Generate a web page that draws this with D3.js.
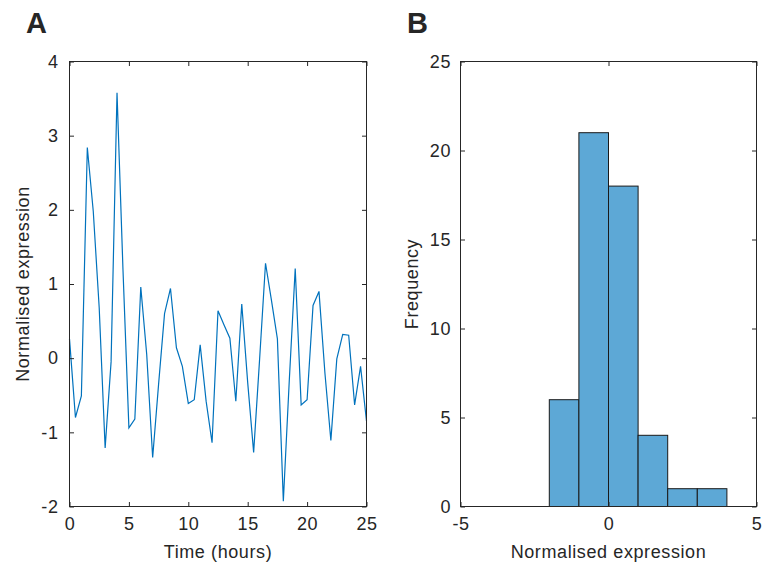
<!DOCTYPE html>
<html>
<head>
<meta charset="utf-8">
<script src="https://cdn.jsdelivr.net/npm/d3@7"></script>
<style>
  html, body { margin: 0; padding: 0; background: #fff; }
  svg { display: block; }
  text { font-family: "Liberation Sans", Arial, Helvetica, sans-serif; fill: #262626; }
</style>
</head>
<body>
<svg id="chart" width="764" height="572"></svg>
<script>
// ---- Data ----
const timeHours = [0,0.5,1,1.5,2,2.5,3,3.5,4,4.5,5,5.5,6,6.5,7,7.5,8,8.5,9,9.5,10,10.5,11,11.5,12,12.5,13,13.5,14,14.5,15,15.5,16,16.5,17,17.5,18,18.5,19,19.5,20,20.5,21,21.5,22,22.5,23,23.5,24,24.5,25];
const expression = [0.26,-0.80,-0.51,2.84,1.98,0.68,-1.21,-0.05,3.58,1.20,-0.94,-0.82,0.96,0.05,-1.34,-0.35,0.60,0.94,0.14,-0.11,-0.61,-0.56,0.18,-0.58,-1.14,0.64,0.45,0.27,-0.58,0.73,-0.33,-1.27,-0.02,1.28,0.78,0.26,-1.93,-0.30,1.21,-0.63,-0.56,0.71,0.90,-0.20,-1.11,-0.01,0.32,0.31,-0.63,-0.11,-0.85];
const binEdges = [-2,-1,0,1,2,3,4];
const binCounts = [6,21,18,4,1,1];
const timeTicks = [0,5,10,15,20,25];
const exprTicks = [-2,-1,0,1,2,3,4];
const histXTicks = [-5,0,5];
const freqTicks = [0,5,10,15,20,25];

const svg = d3.select("#chart");
const FS = 18, LS = "0.6px", AX = "#262626", TICK = 4.5;

function drawAxes(g, x, y, xt, yt, w, h, ypad) {
  const fmt = d => d3.format("")(d).replace("\u2212", "-");
  const bx = g.append("g").attr("transform", `translate(0,${h})`)
    .call(d3.axisBottom(x).tickValues(xt).tickSizeInner(-TICK).tickSizeOuter(0).tickPadding(11).tickFormat(fmt));
  const ly = g.append("g")
    .call(d3.axisLeft(y).tickValues(yt).tickSizeInner(-TICK).tickSizeOuter(0).tickPadding(ypad).tickFormat(fmt));
  const tx = g.append("g").call(d3.axisTop(x).tickValues(xt).tickSizeInner(-TICK).tickSizeOuter(0).tickFormat(""));
  const ry = g.append("g").attr("transform", `translate(${w},0)`)
    .call(d3.axisRight(y).tickValues(yt).tickSizeInner(-TICK).tickSizeOuter(0).tickFormat(""));
  [bx, ly, tx, ry].forEach(a => {
    a.select(".domain").remove();
    a.selectAll(".tick line").attr("stroke", AX).attr("stroke-width", 1);
    a.selectAll(".tick text").attr("font-size", FS).attr("letter-spacing", LS)
      .attr("fill", AX).style("font-family", '"Liberation Sans", Arial, sans-serif');
  });
  g.append("rect").attr("x", 0).attr("y", 0).attr("width", w).attr("height", h)
    .attr("fill", "none").attr("stroke", AX).attr("stroke-width", 1);
}

// ---- Panel A ----
{
  const L = 69.5, T = 61.5, W = 297, H = 445;
  const g = svg.append("g").attr("transform", `translate(${L},${T})`);
  const x = d3.scaleLinear().domain([0, 25]).range([0, W]);
  const y = d3.scaleLinear().domain([-2, 4]).range([H, 0]);
  const line = d3.line().x((d, i) => x(timeHours[i])).y(d => y(d));
  g.append("path").datum(expression).attr("d", line)
    .attr("fill", "none").attr("stroke", "#0072BD").attr("stroke-width", 1.2)
    .attr("stroke-linejoin", "miter");
  drawAxes(g, x, y, timeTicks, exprTicks, W, H, 11);
  g.append("text").attr("x", W / 2).attr("y", H + 51).attr("text-anchor", "middle")
    .attr("font-size", FS).attr("letter-spacing", LS).text("Time (hours)");
  g.append("text").attr("transform", `translate(${-41},${H / 2}) rotate(-90)`)
    .attr("text-anchor", "middle").attr("font-size", FS).attr("letter-spacing", LS)
    .text("Normalised expression");
  svg.append("text").attr("x", 26).attr("y", 32.5).attr("font-size", 29).attr("font-weight", "bold")
    .attr("fill", "#1a1a1a").text("A");
}

// ---- Panel B ----
{
  const L = 460.5, T = 61.5, W = 296, H = 445;
  const g = svg.append("g").attr("transform", `translate(${L},${T})`);
  const x = d3.scaleLinear().domain([-5, 5]).range([0, W]);
  const y = d3.scaleLinear().domain([0, 25]).range([H, 0]);
  const bins = binCounts.map((c, i) => ({ x0: binEdges[i], x1: binEdges[i + 1], c }));
  g.selectAll("rect.bar").data(bins).enter().append("rect").attr("class", "bar")
    .attr("x", d => x(d.x0)).attr("width", d => x(d.x1) - x(d.x0))
    .attr("y", d => y(d.c)).attr("height", d => y(0) - y(d.c))
    .attr("fill", "#5DA8D6").attr("stroke", "#1a1a1a").attr("stroke-width", 1);
  drawAxes(g, x, y, histXTicks, freqTicks, W, H, 9.5);
  g.append("text").attr("x", W / 2).attr("y", H + 51).attr("text-anchor", "middle")
    .attr("font-size", FS).attr("letter-spacing", LS).text("Normalised expression");
  g.append("text").attr("transform", `translate(${-43},${H / 2}) rotate(-90)`)
    .attr("text-anchor", "middle").attr("font-size", FS).attr("letter-spacing", LS)
    .text("Frequency");
  svg.append("text").attr("x", 407).attr("y", 32.5).attr("font-size", 29).attr("font-weight", "bold")
    .attr("fill", "#1a1a1a").text("B");
}
</script>
</body>
</html>
